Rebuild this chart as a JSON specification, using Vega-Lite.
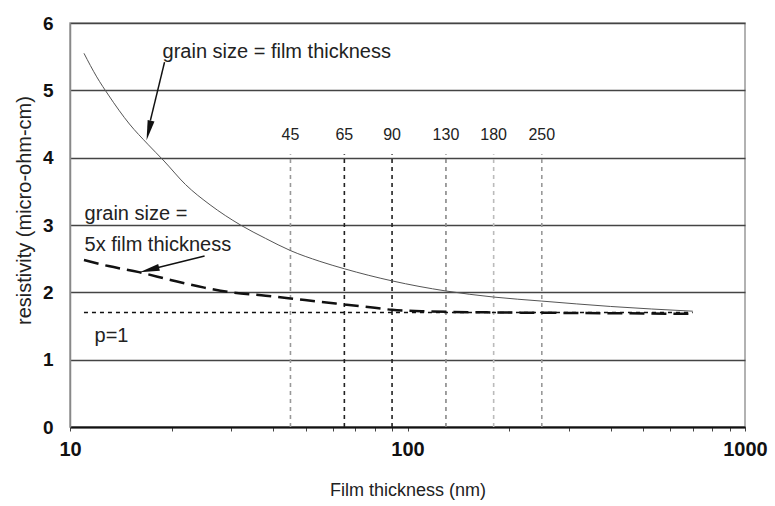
{
  "$schema": "https://vega.github.io/schema/vega-lite/v6.json",
  "width": 675,
  "height": 404,
  "autosize": {"type": "none"},
  "padding": {"left": 70, "top": 23, "right": 30, "bottom": 79},
  "background": "white",
  "config": {
    "font": "Liberation Sans",
    "view": {"stroke": "#999", "strokeWidth": 1.5}
  },
  "datasets": {
    "thick": [
      {"x": 11, "y": 5.55}, {"x": 12, "y": 5.2}, {"x": 13, "y": 4.93}, {"x": 15, "y": 4.5},
      {"x": 17, "y": 4.2}, {"x": 19, "y": 3.95}, {"x": 22, "y": 3.6}, {"x": 26, "y": 3.3},
      {"x": 32, "y": 3.0}, {"x": 38, "y": 2.8}, {"x": 45, "y": 2.62}, {"x": 55, "y": 2.46},
      {"x": 65, "y": 2.35}, {"x": 90, "y": 2.17}, {"x": 130, "y": 2.02}, {"x": 180, "y": 1.93},
      {"x": 250, "y": 1.87}, {"x": 400, "y": 1.79}, {"x": 700, "y": 1.72}
    ],
    "five": [
      {"x": 11, "y": 2.48}, {"x": 13, "y": 2.39}, {"x": 16, "y": 2.3}, {"x": 20, "y": 2.18},
      {"x": 25, "y": 2.07}, {"x": 30, "y": 2.0}, {"x": 38, "y": 1.95}, {"x": 45, "y": 1.91},
      {"x": 55, "y": 1.86}, {"x": 65, "y": 1.82}, {"x": 80, "y": 1.77}, {"x": 90, "y": 1.74},
      {"x": 110, "y": 1.72}, {"x": 130, "y": 1.71}, {"x": 200, "y": 1.7}, {"x": 400, "y": 1.69},
      {"x": 700, "y": 1.68}
    ],
    "p1": [{"x": 11, "y": 1.7}, {"x": 700, "y": 1.7}],
    "nodes": [
      {"x": 45, "y": 0, "y2": 4.05, "label": "45", "ly": 4.34, "c": "#999999"},
      {"x": 65, "y": 0, "y2": 4.05, "label": "65", "ly": 4.34, "c": "#222222"},
      {"x": 90, "y": 0, "y2": 4.05, "label": "90", "ly": 4.34, "c": "#222222"},
      {"x": 130, "y": 0, "y2": 4.05, "label": "130", "ly": 4.34, "c": "#888888"},
      {"x": 180, "y": 0, "y2": 4.05, "label": "180", "ly": 4.34, "c": "#bbbbbb"},
      {"x": 250, "y": 0, "y2": 4.05, "label": "250", "ly": 4.34, "c": "#999999"}
    ],
    "notes": [
      {"x": 18.8, "y": 5.57, "text": "grain size = film thickness"},
      {"x": 11.04, "y": 3.16, "text": "grain size ="},
      {"x": 11.04, "y": 2.7, "text": "5x film thickness"},
      {"x": 11.82, "y": 1.35, "text": "p=1"}
    ],
    "arrows": [
      {"x": 19.06, "y": 5.42, "x2": 17.3, "y2": 4.55, "tx": 16.86, "ty": 4.26, "angle": 193},
      {"x": 25.05, "y": 2.54, "x2": 18.0, "y2": 2.36, "tx": 16.08, "ty": 2.3, "angle": 256}
    ]
  },
  "layer": [
    {
      "data": {"name": "nodes"},
      "mark": {"type": "rule", "strokeDash": [4, 4], "strokeWidth": 1.6},
      "encoding": {
        "x": {
          "field": "x", "type": "quantitative",
          "scale": {"type": "log", "domain": [10, 1000]},
          "axis": {
            "title": "Film thickness (nm)",
            "titleFontSize": 18, "titleFontWeight": "normal", "titleColor": "#222",
            "titlePadding": 22,
            "values": [10, 20, 30, 40, 50, 60, 70, 80, 90, 100, 200, 300, 400, 500, 600, 700, 800, 900, 1000],
            "format": "d",
            "labelExpr": "indexof([10,100,1000], datum.value) >= 0 ? datum.label : ''",
            "labelFontSize": 20, "labelFontWeight": "bold", "labelColor": "#111",
            "labelPadding": 8, "labelFlush": false,
            "tickSize": 4, "tickColor": "#444", "tickWidth": 1,
            "domainColor": "#111", "domainWidth": 2,
            "grid": false
          }
        },
        "y": {
          "field": "y", "type": "quantitative",
          "scale": {"domain": [0, 6]},
          "axis": {
            "title": "resistivity (micro-ohm-cm)",
            "titleFontSize": 20, "titleFontWeight": "normal", "titleColor": "#222",
            "titlePadding": 8, "titleY": 187,
            "values": [0, 1, 2, 3, 4, 5, 6],
            "format": "d",
            "labelFontSize": 19, "labelFontWeight": "bold", "labelColor": "#111",
            "labelPadding": 17, "ticks": false,
            "domainColor": "#888", "domainWidth": 1.5,
            "grid": true, "gridColor": "#444", "gridWidth": 1.3
          }
        },
        "y2": {"field": "y2"},
        "color": {"field": "c", "type": "nominal", "scale": null}
      }
    },
    {
      "data": {"name": "nodes"},
      "mark": {"type": "text", "fontSize": 16, "color": "#222", "align": "center", "baseline": "middle"},
      "encoding": {
        "x": {"field": "x", "type": "quantitative"},
        "y": {"field": "ly", "type": "quantitative"},
        "text": {"field": "label"}
      }
    },
    {
      "data": {"name": "thick"},
      "mark": {"type": "line", "color": "#555", "strokeWidth": 1, "interpolate": "monotone"},
      "encoding": {
        "x": {"field": "x", "type": "quantitative"},
        "y": {"field": "y", "type": "quantitative"}
      }
    },
    {
      "data": {"name": "p1"},
      "mark": {"type": "line", "color": "#111", "strokeWidth": 1.5, "strokeDash": [4, 4]},
      "encoding": {
        "x": {"field": "x", "type": "quantitative"},
        "y": {"field": "y", "type": "quantitative"}
      }
    },
    {
      "data": {"name": "five"},
      "mark": {"type": "line", "color": "#111", "strokeWidth": 2.5, "strokeDash": [15, 7], "interpolate": "monotone"},
      "encoding": {
        "x": {"field": "x", "type": "quantitative"},
        "y": {"field": "y", "type": "quantitative"}
      }
    },
    {
      "data": {"name": "notes"},
      "mark": {"type": "text", "fontSize": 20, "color": "#222", "align": "left", "baseline": "middle"},
      "encoding": {
        "x": {"field": "x", "type": "quantitative"},
        "y": {"field": "y", "type": "quantitative"},
        "text": {"field": "text"}
      }
    },
    {
      "data": {"name": "arrows"},
      "mark": {"type": "rule", "color": "#111", "strokeWidth": 1.5},
      "encoding": {
        "x": {"field": "x", "type": "quantitative"},
        "y": {"field": "y", "type": "quantitative"},
        "x2": {"field": "x2"},
        "y2": {"field": "y2"}
      }
    },
    {
      "data": {"name": "arrows"},
      "mark": {"type": "point", "shape": "M0,0L0.35,2L-0.35,2Z", "filled": true, "color": "#111", "opacity": 1, "size": 400},
      "encoding": {
        "x": {"field": "tx", "type": "quantitative"},
        "y": {"field": "ty", "type": "quantitative"},
        "angle": {"field": "angle", "type": "quantitative", "scale": null}
      }
    }
  ]
}
